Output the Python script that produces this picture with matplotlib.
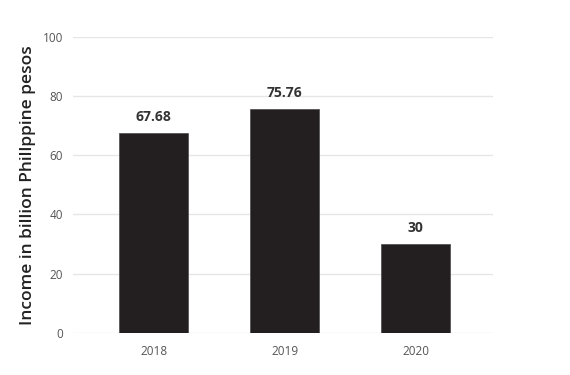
import matplotlib
matplotlib.use("Agg")
import matplotlib.pyplot as plt

# Data
# ----
years = ["2018", "2019", "2020"]
income = [67.68, 75.76, 30]
value_labels = ["67.68", "75.76", "30"]
y_ticks = [0, 20, 40, 60, 80, 100]

plt.rcParams["font.family"] = ["Open Sans", "DejaVu Sans"]

fig = plt.figure(figsize=(5.7, 3.75), dpi=100)
ax = fig.add_axes([0.128, 0.113, 0.737, 0.788])

x = range(len(years))
ax.bar(
    x, income,
    width=0.53,
    color="#231f20",
    edgecolor="#555555",
    linewidth=0.6,
    zorder=3,
)

for xi, v, lab in zip(x, income, value_labels):
    ax.text(
        xi, v + 3, lab,
        ha="center", va="bottom",
        fontsize=10, fontweight="bold", color="#333333",
    )

ax.set_xlim(-0.615, 2.59)
ax.set_ylim(0, 100)
ax.set_xticks(list(x))
ax.set_xticklabels(years)
ax.set_yticks(y_ticks)

ax.grid(axis="y", color="#e6e6e6", linewidth=1, zorder=0)
for s in ax.spines.values():
    s.set_visible(False)
ax.tick_params(axis="both", length=0, labelsize=8.5, labelcolor="#555555")
ax.tick_params(axis="y", pad=7)
ax.tick_params(axis="x", pad=9)

ax.set_ylabel(
    "Income in billion Phillppine pesos",
    fontsize=12.5, fontweight="semibold", color="#222222", labelpad=5,
)

fig.savefig("out.png", dpi=100)
